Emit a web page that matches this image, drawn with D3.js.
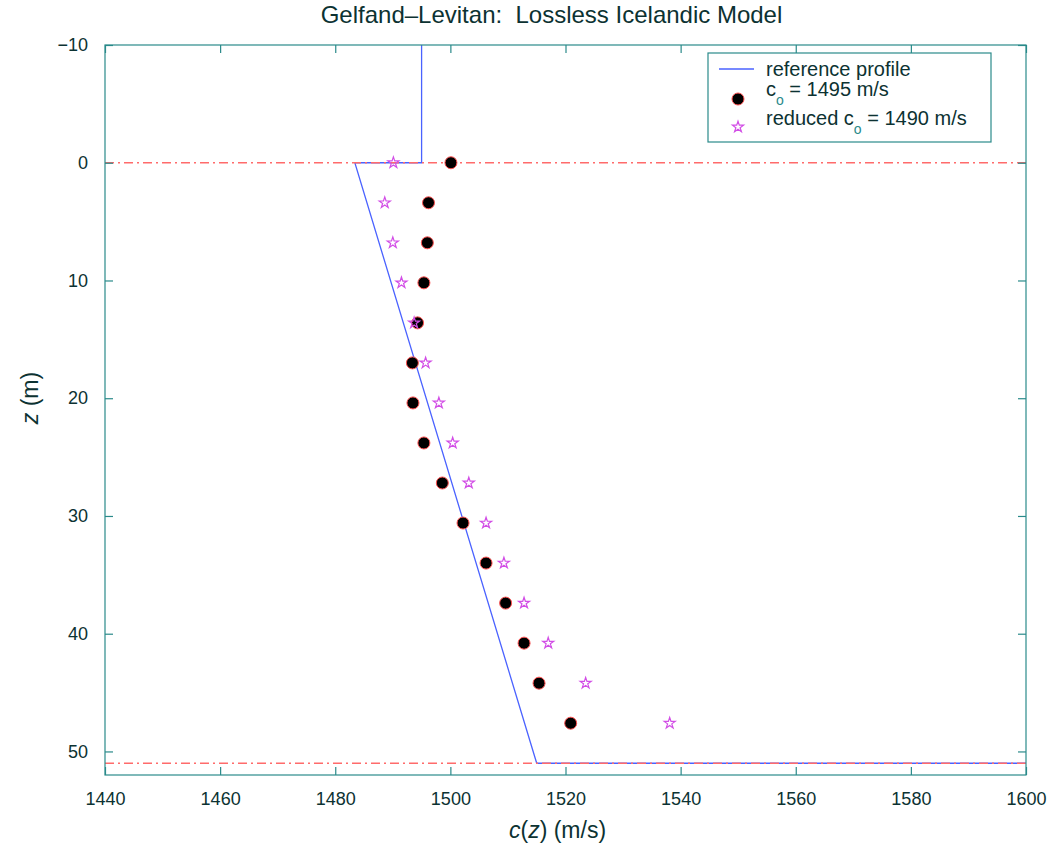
<!DOCTYPE html>
<html><head><meta charset="utf-8">
<script src="https://cdn.jsdelivr.net/npm/d3@7"></script>
<style>body{margin:0;background:#fff}svg{display:block}text{white-space:pre}</style>
</head><body>
<svg id="chart" width="1053" height="848"></svg>
<script>
// ---- data ----
const zSamples = [0, 3.4, 6.8, 10.2, 13.6, 17.0, 20.4, 23.8, 27.2, 30.6, 34.0, 37.4, 40.8, 44.2, 47.6];
const cFull = [1500.1, 1496.2, 1496.0, 1495.4, 1494.3, 1493.4, 1493.5, 1495.4, 1498.6, 1502.2, 1506.2, 1509.6, 1512.8, 1515.4, 1520.9];
const cReduced = [1490.1, 1488.6, 1490.0, 1491.5, 1493.7, 1495.7, 1498.0, 1500.4, 1503.2, 1506.2, 1509.3, 1512.8, 1517.0, 1523.5, 1538.1];
const refC = [1495, 1495, 1483.4, 1515, 1600];
const refZ = [-10, 0, 0, 51, 51];
const boundaryZ = [0, 51];
const xTicks = [1440, 1460, 1480, 1500, 1520, 1540, 1560, 1580, 1600];
const yTicks = [-10, 0, 10, 20, 30, 40, 50];

const svg = d3.select("#chart");
const L = 105, R = 1026, T = 45, B = 775;
const x = d3.scaleLinear().domain([1440, 1600]).range([L, R]);
const y = d3.scaleLinear().domain([-10, 52]).range([T, B]);
const txt = "#0c3232", ax = "#2a8a8a";
const font = "'Liberation Sans', Arial, sans-serif";

// reference profile & boundary dash-dot lines
const refPts = refC.map((c, i) => [c, refZ[i]]);
svg.append("path").datum(refPts)
  .attr("d", d3.line().x(d => x(d[0])).y(d => y(d[1])))
  .attr("fill", "none").attr("stroke", "#4a62ff").attr("stroke-width", 1.3);
svg.selectAll(".bnd").data(boundaryZ).join("line")
  .attr("x1", L).attr("x2", R).attr("y1", d => y(d)).attr("y2", d => y(d))
  .attr("stroke", "#ff6b6b").attr("stroke-width", 1.6)
  .attr("stroke-dasharray", "9,4,2,4");

// axes
const gx = svg.append("g").attr("transform", `translate(0,${B})`)
  .call(d3.axisBottom(x).tickValues(xTicks).tickSize(-8).tickPadding(17).tickFormat(d3.format("d")));
const gxt = svg.append("g").attr("transform", `translate(0,${T})`)
  .call(d3.axisTop(x).tickValues(xTicks).tickSize(-8).tickFormat(""));
const gy = svg.append("g").attr("transform", `translate(${L},0)`)
  .call(d3.axisLeft(y).tickValues(yTicks).tickSize(-8).tickPadding(17));
const gyr = svg.append("g").attr("transform", `translate(${R},0)`)
  .call(d3.axisRight(y).tickValues(yTicks).tickSize(-8).tickFormat(""));
[gx, gxt, gy, gyr].forEach(g => {
  g.select(".domain").remove();
  g.selectAll("line").attr("stroke", ax).attr("stroke-width", 1.2);
  g.selectAll("text").attr("fill", txt).attr("font-family", font).attr("font-size", 18);
});
svg.append("rect").attr("x", L).attr("y", T).attr("width", R - L).attr("height", B - T)
  .attr("fill", "none").attr("stroke", ax).attr("stroke-width", 1.2);

// markers
svg.selectAll(".dot").data(zSamples).join("circle")
  .attr("cx", (d, i) => x(cFull[i])).attr("cy", d => y(d)).attr("r", 6)
  .attr("fill", "#000").attr("stroke", "#ff5050").attr("stroke-width", 1);
const star = d3.symbol().type(d3.symbolStar).size(38);
svg.selectAll(".star").data(zSamples).join("path")
  .attr("d", star).attr("transform", (d, i) => `translate(${x(cReduced[i])},${y(d)})`)
  .attr("fill", "none").attr("stroke", "#d24ee6").attr("stroke-width", 1.2);

// title and labels
svg.append("text").attr("x", (L + R) / 2 - 14).attr("y", 23).attr("text-anchor", "middle")
  .attr("fill", txt).attr("font-family", font).attr("font-size", 24)
  .text("Gelfand\u2013Levitan:  Lossless Icelandic Model");
const xl = svg.append("text").attr("x", (L + R) / 2 - 8).attr("y", 838).attr("text-anchor", "middle")
  .attr("fill", txt).attr("font-family", font).attr("font-size", 23);
xl.append("tspan").attr("font-style", "italic").text("c");
xl.append("tspan").text("(");
xl.append("tspan").attr("font-style", "italic").text("z");
xl.append("tspan").text(") (m/s)");
const yl = svg.append("text").attr("transform", `translate(38,${(T + B) / 2 - 12}) rotate(-90)`)
  .attr("text-anchor", "middle").attr("fill", txt).attr("font-family", font).attr("font-size", 23);
yl.append("tspan").attr("font-style", "italic").text("z");
yl.append("tspan").text(" (m)");

// legend
const lg = svg.append("g");
lg.append("rect").attr("x", 708).attr("y", 53).attr("width", 283).attr("height", 89)
  .attr("fill", "#fff").attr("stroke", ax).attr("stroke-width", 1.2);
lg.append("line").attr("x1", 719).attr("x2", 754).attr("y1", 69).attr("y2", 69)
  .attr("stroke", "#4a62ff").attr("stroke-width", 1.3);
lg.append("circle").attr("cx", 738).attr("cy", 99).attr("r", 6)
  .attr("fill", "#000").attr("stroke", "#ff5050").attr("stroke-width", 1);
lg.append("path").attr("d", star).attr("transform", "translate(738,127)")
  .attr("fill", "none").attr("stroke", "#d24ee6").attr("stroke-width", 1.2);
const lt = (yy) => lg.append("text").attr("x", 766).attr("y", yy)
  .attr("fill", txt).attr("font-family", font).attr("font-size", 20);
lt(76).text("reference profile");
const t2 = lt(96);
t2.append("tspan").text("c");
t2.append("tspan").attr("dy", 9).attr("font-size", 14).attr("fill", "#2a8a8a").text("o");
t2.append("tspan").attr("dy", -9).text(" = 1495 m/s");
const t3 = lt(125);
t3.append("tspan").text("reduced c");
t3.append("tspan").attr("dy", 9).attr("font-size", 14).attr("fill", "#2a8a8a").text("o");
t3.append("tspan").attr("dy", -9).text(" = 1490 m/s");
</script>
</body></html>
